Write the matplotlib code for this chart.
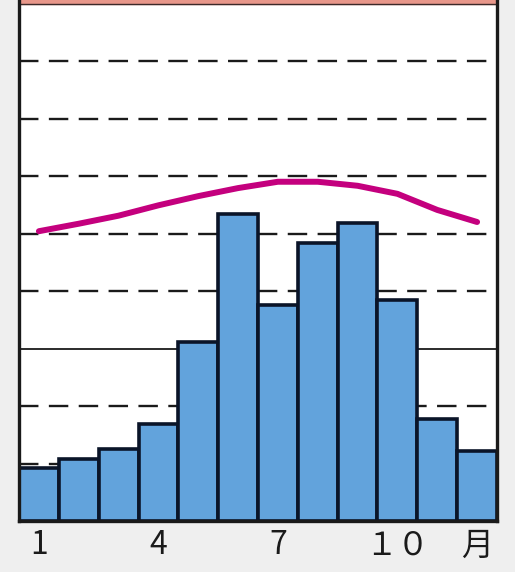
import matplotlib
matplotlib.use("Agg")
import matplotlib.pyplot as plt
import numpy as np

plt.rcParams['font.family'] = ['Noto Sans CJK JP', 'DejaVu Sans']
plt.rcParams['lines.scale_dashes'] = False

months = list(range(1, 13))
precip = [0.92, 1.08, 1.25, 1.69, 3.11, 5.34, 3.76, 4.83, 5.18, 3.84, 1.77, 1.22]
temp = [5.04, 5.17, 5.31, 5.49, 5.65, 5.79, 5.90, 5.90, 5.83, 5.69, 5.41, 5.20]
tick_pos = [1, 4, 7, 10, 12]
tick_labels = ['1', '4', '7', '１０', '月']
dashed_levels = [1, 2, 4, 5, 6, 7, 8]
solid_levels = [3]

fig = plt.figure(figsize=(5.15, 5.72), dpi=100, facecolor='#efefef')
ax = fig.add_axes([19/515, 51/572, 478/515, 521/572])
ax.set_facecolor('white')
ax.set_xlim(0.5, 12.5)
ax.set_ylim(0, 521/57.5)

for lv in dashed_levels:
    ax.axhline(lv, color='#1a1a1a', lw=1.7, linestyle=(0, (14, 7.5)), zorder=1)
for lv in solid_levels:
    ax.axhline(lv, color='#1a1a1a', lw=1.3, zorder=1)

ax.axhspan(9.0, 521/57.5, color='#e8978a', zorder=1)
ax.axhline(9.0, color='#3a2a2a', lw=1.0, zorder=1)

ax.bar(months, precip, width=1.0, color='#62a3dc', edgecolor='#0a1428', linewidth=2.6, zorder=2)
ax.plot(months, temp, color='#c4007e', lw=4.3, solid_capstyle='round', solid_joinstyle='round', zorder=3)

for s in ['left', 'right', 'bottom']:
    ax.spines[s].set_linewidth(2.4)
    ax.spines[s].set_color('#1a1a1a')
ax.spines['top'].set_visible(False)

ax.set_yticks([])
ax.set_xticks(tick_pos)
ax.set_xticklabels(tick_labels, fontsize=23, color='#1a1a1a')
ax.tick_params(axis='x', length=0, pad=6)

fig.savefig('out.png', dpi=100, facecolor=fig.get_facecolor())
